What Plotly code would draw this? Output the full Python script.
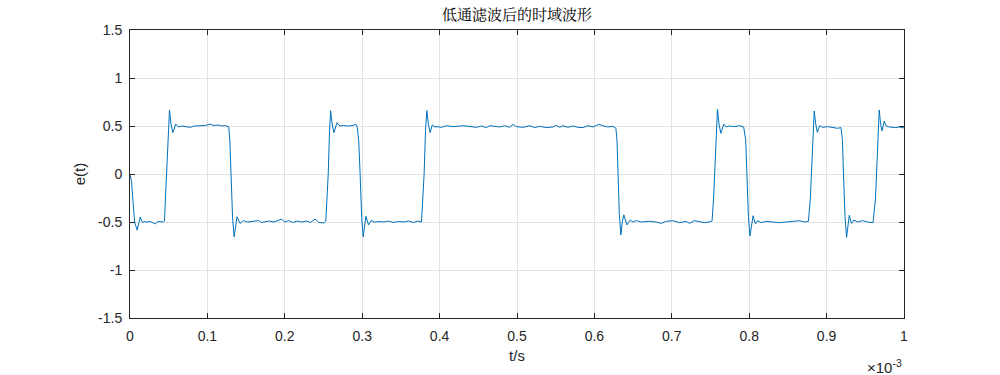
import plotly.graph_objects as go

# time in units of 1e-3 s (axis shows x10^-3), e(t) values
t_ms = [
    0.000, 0.002, 0.004, 0.006, 0.0093, 0.0113, 0.0132, 0.0160, 0.0185, 0.022, 0.026, 0.030, 0.0325, 0.036, 0.040, 0.043, 0.0445,
    0.0460, 0.0476, 0.0495, 0.0510, 0.0530, 0.0553, 0.0592, 0.0625, 0.067, 0.072, 0.0777, 0.083, 0.090, 0.097, 0.1035, 0.108, 0.114, 0.119, 0.123, 0.1275,
    0.1290, 0.1306, 0.1325, 0.1345, 0.1365, 0.1383, 0.1422, 0.1465, 0.152, 0.159, 0.166, 0.170, 0.175, 0.180, 0.186, 0.192, 0.196, 0.200, 0.205, 0.210, 0.216, 0.222, 0.228, 0.233, 0.239, 0.244, 0.2505, 0.2530,
    0.2545, 0.2561, 0.2578, 0.2592, 0.2612, 0.2635, 0.2674, 0.271, 0.276, 0.282, 0.288, 0.2915, 0.2935,
    0.2955, 0.2973, 0.2993, 0.3013, 0.3030, 0.3048, 0.3082, 0.3115, 0.316, 0.322, 0.328, 0.334, 0.340, 0.347, 0.354, 0.360, 0.366, 0.372, 0.3766,
    0.3785, 0.3800, 0.3818, 0.3835, 0.3855, 0.3878, 0.3905, 0.394, 0.398, 0.4024, 0.4089, 0.4175, 0.4304, 0.439, 0.4476, 0.454, 0.4605, 0.4648, 0.4712, 0.4777, 0.4841, 0.4906, 0.4949, 0.4992, 0.5078, 0.5164, 0.5228, 0.5293, 0.5379, 0.5465, 0.5508, 0.5551, 0.5594, 0.5658, 0.5723, 0.5787, 0.5852, 0.5916, 0.5981, 0.6058, 0.611, 0.6174, 0.6239, 0.6278,
    0.6292, 0.6304, 0.6322, 0.6342, 0.6360, 0.6380, 0.6420, 0.6463, 0.6497, 0.654, 0.6605, 0.6712, 0.6798, 0.6863, 0.6928, 0.7013, 0.7099, 0.7186, 0.7228, 0.7293, 0.7357, 0.7422, 0.7486, 0.7520,
    0.7540, 0.7555, 0.7573, 0.7590, 0.7610, 0.7633, 0.7672, 0.7702, 0.7745, 0.7809, 0.7874, 0.7929,
    0.7955, 0.7970, 0.7990, 0.8010, 0.8030, 0.8050, 0.8080, 0.811, 0.8153, 0.8218, 0.8303, 0.839, 0.8476, 0.8561, 0.8648, 0.8712, 0.8765,
    0.8790, 0.8805, 0.8823, 0.8840, 0.8860, 0.8880, 0.8910, 0.8949, 0.9013, 0.9077, 0.9142, 0.9186,
    0.9205, 0.9218, 0.9238, 0.9258, 0.9275, 0.9293, 0.9320, 0.9352, 0.9400, 0.9465, 0.9529, 0.9600,
    0.9632, 0.9645, 0.9663, 0.9680, 0.9698, 0.9715, 0.9745, 0.9770, 0.9809, 0.9852, 0.9895, 0.9938, 0.9970, 1.000,
]
e_t = [
    0.00, -0.08, -0.30, -0.50, -0.585, -0.50, -0.45, -0.505, -0.495, -0.50, -0.495, -0.51, -0.52, -0.495, -0.50, -0.50, -0.49,
    -0.25, 0.00, 0.45, 0.667, 0.52, 0.43, 0.52, 0.49, 0.50, 0.495, 0.486, 0.50, 0.50, 0.505, 0.52, 0.505, 0.51, 0.50, 0.505, 0.49,
    0.35, 0.00, -0.45, -0.655, -0.52, -0.445, -0.515, -0.486, -0.50, -0.49, -0.485, -0.505, -0.50, -0.49, -0.50, -0.485, -0.47, -0.50, -0.485, -0.505, -0.49, -0.50, -0.49, -0.505, -0.47, -0.505, -0.51, -0.49,
    -0.25, 0.00, 0.45, 0.66, 0.52, 0.43, 0.535, 0.50, 0.505, 0.50, 0.505, 0.52, 0.49,
    0.35, 0.00, -0.45, -0.655, -0.52, -0.44, -0.53, -0.486, -0.50, -0.495, -0.50, -0.49, -0.505, -0.495, -0.50, -0.49, -0.505, -0.49, -0.50,
    -0.25, 0.00, 0.45, 0.66, 0.52, 0.43, 0.51, 0.49, 0.493, 0.486, 0.503, 0.493, 0.503, 0.497, 0.486, 0.50, 0.483, 0.503, 0.497, 0.49, 0.503, 0.486, 0.517, 0.493, 0.486, 0.503, 0.483, 0.497, 0.483, 0.49, 0.507, 0.486, 0.503, 0.486, 0.50, 0.486, 0.483, 0.503, 0.49, 0.517, 0.503, 0.49, 0.497, 0.476,
    0.35, 0.00, -0.42, -0.635, -0.50, -0.425, -0.53, -0.48, -0.50, -0.486, -0.50, -0.493, -0.50, -0.514, -0.493, -0.486, -0.507, -0.493, -0.514, -0.486, -0.50, -0.507, -0.50, -0.49,
    -0.25, 0.00, 0.45, 0.675, 0.52, 0.424, 0.52, 0.49, 0.50, 0.493, 0.503, 0.49,
    0.35, 0.00, -0.45, -0.645, -0.52, -0.435, -0.52, -0.486, -0.507, -0.493, -0.50, -0.507, -0.50, -0.493, -0.486, -0.50, -0.493,
    -0.25, 0.00, 0.45, 0.656, 0.52, 0.434, 0.503, 0.486, 0.493, 0.486, 0.476, 0.483,
    0.35, 0.00, -0.45, -0.66, -0.52, -0.43, -0.515, -0.48, -0.50, -0.486, -0.50, -0.507,
    -0.25, 0.00, 0.45, 0.667, 0.52, 0.448, 0.552, 0.50, 0.49, 0.486, 0.483, 0.49, 0.485, 0.48,
]

x_tick_vals = [0, 0.1, 0.2, 0.3, 0.4, 0.5, 0.6, 0.7, 0.8, 0.9, 1]
x_tick_text = ["0", "0.1", "0.2", "0.3", "0.4", "0.5", "0.6", "0.7", "0.8", "0.9", "1"]
y_tick_vals = [-1.5, -1, -0.5, 0, 0.5, 1, 1.5]
y_tick_text = ["-1.5", "-1", "-0.5", "0", "0.5", "1", "1.5"]

title_text = "低通滤波后的时域波形"
x_label = "t/s"
y_label = "e(t)"

axis_color = "#262626"
font_family = "Liberation Sans, Arial, sans-serif"

fig = go.Figure()
fig.add_trace(go.Scatter(
    x=t_ms, y=e_t, mode="lines",
    line=dict(color="#0072BD", width=1),
    showlegend=False, hoverinfo="skip",
))

axis_common = dict(
    showline=True, linecolor=axis_color, linewidth=1, mirror="ticks",
    ticks="inside", ticklen=5, tickwidth=1, tickcolor=axis_color,
    showgrid=True, gridcolor="#e3e3e3", gridwidth=1,
    zeroline=False,
    tickfont=dict(family=font_family, size=14, color=axis_color),
)

fig.update_layout(
    width=1000, height=375,
    margin=dict(l=130, r=96, t=30, b=57),
    paper_bgcolor="white", plot_bgcolor="white",
    title=dict(
        text=title_text,
        font=dict(family="Noto Serif CJK SC, Noto Sans CJK SC, serif", size=15, color="black"),
        x=0.5, xref="paper", xanchor="center",
        y=0.962, yref="container", yanchor="middle",
    ),
    xaxis=dict(
        range=[0, 1], tickvals=x_tick_vals, ticktext=x_tick_text,
        ticklabelstandoff=5,
        title=dict(text=x_label, font=dict(family=font_family, size=15, color=axis_color), standoff=7),
        **axis_common,
    ),
    yaxis=dict(
        range=[-1.5, 1.5], tickvals=y_tick_vals, ticktext=y_tick_text,
        ticklabelstandoff=4,
        title=dict(text=y_label, font=dict(family=font_family, size=15, color=axis_color), standoff=8),
        **axis_common,
    ),
    annotations=[dict(
        text="×10<sup>-3</sup>", xref="paper", yref="paper",
        x=1.0, y=-0.17, xanchor="right", yanchor="middle", showarrow=False,
        font=dict(family=font_family, size=15, color=axis_color),
    )],
)

fig.write_html("out.html")
